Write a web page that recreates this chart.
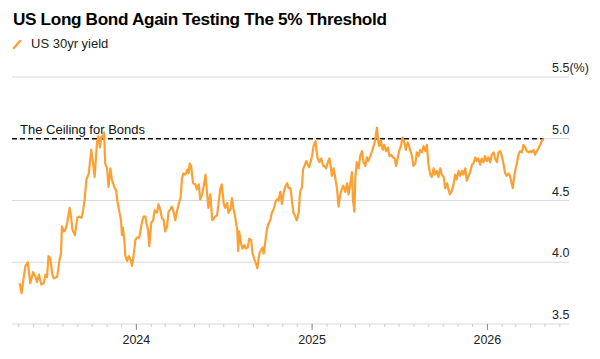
<!DOCTYPE html>
<html>
<head>
<meta charset="utf-8" />
<script src="https://cdn.jsdelivr.net/npm/d3@7"></script>
<style>
  body { margin: 0; background: #fff; }
  svg { display: block; font-family: "Liberation Sans", Arial, Helvetica, sans-serif; }
</style>
</head>
<body>
<div id="chart"></div>
<script>
/** Chart data */
const title = "US Long Bond Again Testing The 5% Threshold";
const seriesName = "US 30yr yield";
const ceilingLabel = "The Ceiling for Bonds";
const ceilingValue = 5.0;
const yTicks = [3.5, 4.0, 4.5, 5.0, 5.5];
const yearTicks = ["2024-01-01", "2025-01-01", "2026-01-01"];
const xDomain = ["2023-04-17", "2026-06-20"];

const dates = [
  "2023-05-03", "2023-05-07", "2023-05-10", "2023-05-15", "2023-05-20", "2023-05-25", "2023-05-31",
  "2023-06-05", "2023-06-08", "2023-06-12", "2023-06-17", "2023-06-22", "2023-06-26", "2023-06-29",
  "2023-07-02", "2023-07-06", "2023-07-10", "2023-07-13", "2023-07-20", "2023-07-25", "2023-07-28",
  "2023-07-30", "2023-08-03", "2023-08-06", "2023-08-10", "2023-08-15", "2023-08-18", "2023-08-21",
  "2023-08-26", "2023-08-31", "2023-09-04", "2023-09-09", "2023-09-12", "2023-09-15", "2023-09-19",
  "2023-09-24", "2023-09-29", "2023-10-03", "2023-10-06", "2023-10-11", "2023-10-14", "2023-10-17",
  "2023-10-20", "2023-10-24", "2023-10-26", "2023-10-28", "2023-11-01", "2023-11-04", "2023-11-08",
  "2023-11-11", "2023-11-16", "2023-11-20", "2023-11-23", "2023-11-27", "2023-11-30", "2023-12-02",
  "2023-12-04", "2023-12-07", "2023-12-09", "2023-12-13", "2023-12-16", "2023-12-20", "2023-12-23",
  "2023-12-26", "2023-12-30", "2024-01-02", "2024-01-07", "2024-01-13", "2024-01-16", "2024-01-20",
  "2024-01-22", "2024-01-25", "2024-01-28", "2024-02-01", "2024-02-05", "2024-02-08", "2024-02-13",
  "2024-02-16", "2024-02-20", "2024-02-23", "2024-02-27", "2024-03-01", "2024-03-05", "2024-03-08",
  "2024-03-12", "2024-03-15", "2024-03-19", "2024-03-22", "2024-03-26", "2024-03-29", "2024-04-02",
  "2024-04-05", "2024-04-08", "2024-04-12", "2024-04-16", "2024-04-19", "2024-04-21", "2024-04-24",
  "2024-04-28", "2024-05-03", "2024-05-06", "2024-05-10", "2024-05-13", "2024-05-17", "2024-05-20",
  "2024-05-24", "2024-05-27", "2024-05-30", "2024-06-03", "2024-06-07", "2024-06-10", "2024-06-13",
  "2024-06-17", "2024-06-20", "2024-06-24", "2024-06-27", "2024-07-01", "2024-07-04", "2024-07-08",
  "2024-07-11", "2024-07-15", "2024-07-18", "2024-07-21", "2024-07-25", "2024-07-29", "2024-07-31",
  "2024-08-02", "2024-08-06", "2024-08-09", "2024-08-13", "2024-08-16", "2024-08-20", "2024-08-23",
  "2024-08-27", "2024-08-30", "2024-09-03", "2024-09-06", "2024-09-09", "2024-09-13", "2024-09-17",
  "2024-09-20", "2024-09-22", "2024-09-25", "2024-09-29", "2024-10-02", "2024-10-06", "2024-10-09",
  "2024-10-13", "2024-10-16", "2024-10-20", "2024-10-23", "2024-10-27", "2024-10-30", "2024-11-03",
  "2024-11-06", "2024-11-10", "2024-11-13", "2024-11-17", "2024-11-20", "2024-11-23", "2024-11-27",
  "2024-11-30", "2024-12-04", "2024-12-07", "2024-12-11", "2024-12-13", "2024-12-16", "2024-12-20",
  "2024-12-23", "2024-12-26", "2024-12-28", "2025-01-01", "2025-01-04", "2025-01-08", "2025-01-10",
  "2025-01-12", "2025-01-16", "2025-01-20", "2025-01-24", "2025-01-27", "2025-01-30", "2025-02-02",
  "2025-02-06", "2025-02-09", "2025-02-11", "2025-02-15", "2025-02-18", "2025-02-22", "2025-02-25",
  "2025-03-01", "2025-03-04", "2025-03-07", "2025-03-11", "2025-03-15", "2025-03-18", "2025-03-21",
  "2025-03-25", "2025-03-27", "2025-03-30", "2025-04-01", "2025-04-04", "2025-04-08", "2025-04-11",
  "2025-04-15", "2025-04-18", "2025-04-22", "2025-04-25", "2025-04-28", "2025-05-02", "2025-05-06",
  "2025-05-09", "2025-05-12", "2025-05-16", "2025-05-19", "2025-05-21", "2025-05-24", "2025-05-28",
  "2025-05-31", "2025-06-04", "2025-06-08", "2025-06-11", "2025-06-15", "2025-06-18", "2025-06-22",
  "2025-06-25", "2025-06-29", "2025-07-02", "2025-07-05", "2025-07-08", "2025-07-12", "2025-07-15",
  "2025-07-19", "2025-07-22", "2025-07-24", "2025-07-28", "2025-07-31", "2025-08-04", "2025-08-07",
  "2025-08-11", "2025-08-14", "2025-08-18", "2025-08-21", "2025-08-25", "2025-08-28", "2025-08-31",
  "2025-09-04", "2025-09-07", "2025-09-11", "2025-09-14", "2025-09-18", "2025-09-21", "2025-09-25",
  "2025-09-28", "2025-10-02", "2025-10-05", "2025-10-09", "2025-10-12", "2025-10-15", "2025-10-19",
  "2025-10-22", "2025-10-26", "2025-10-29", "2025-11-02", "2025-11-05", "2025-11-09", "2025-11-12",
  "2025-11-16", "2025-11-19", "2025-11-23", "2025-11-26", "2025-11-30", "2025-12-03", "2025-12-07",
  "2025-12-10", "2025-12-13", "2025-12-17", "2025-12-20", "2025-12-24", "2025-12-27", "2025-12-31",
  "2026-01-03", "2026-01-07", "2026-01-10", "2026-01-14", "2026-01-17", "2026-01-21", "2026-01-24",
  "2026-01-28", "2026-01-31", "2026-02-03", "2026-02-07", "2026-02-10", "2026-02-14", "2026-02-17",
  "2026-02-21", "2026-02-23", "2026-02-26", "2026-03-01", "2026-03-04", "2026-03-06", "2026-03-10",
  "2026-03-14", "2026-03-17", "2026-03-21", "2026-03-24", "2026-03-28", "2026-03-31", "2026-04-03",
  "2026-04-07", "2026-04-10", "2026-04-14", "2026-04-17", "2026-04-21", "2026-04-24", "2026-04-28",
];

const yields = [
  3.83, 3.75, 3.84, 3.97, 4.00, 3.83, 3.92,
  3.88, 3.84, 3.90, 3.82, 3.83, 3.90, 3.88,
  4.05, 4.03, 3.90, 3.87, 3.88, 4.02, 4.07,
  4.29, 4.25, 4.26, 4.32, 4.44, 4.37, 4.26,
  4.22, 4.36, 4.37, 4.36, 4.42, 4.50, 4.67,
  4.72, 4.91, 4.80, 4.69, 4.97, 5.02, 4.93,
  5.02, 5.01, 5.05, 4.80, 4.76, 4.61, 4.76,
  4.67, 4.61, 4.58, 4.48, 4.40, 4.34, 4.22,
  4.28, 4.18, 4.05, 4.01, 4.05, 4.02, 3.97,
  4.05, 4.18, 4.20, 4.20, 4.33, 4.37, 4.37,
  4.31, 4.27, 4.13, 4.32, 4.34, 4.42, 4.40,
  4.47, 4.42, 4.36, 4.34, 4.25, 4.29, 4.41,
  4.43, 4.45, 4.40, 4.34, 4.42, 4.47, 4.52,
  4.68, 4.72, 4.71, 4.75, 4.72, 4.80, 4.78,
  4.64, 4.63, 4.59, 4.63, 4.51, 4.55, 4.61,
  4.71, 4.57, 4.44, 4.55, 4.34, 4.35, 4.37,
  4.38, 4.47, 4.60, 4.63, 4.47, 4.44, 4.48,
  4.40, 4.43, 4.52, 4.44, 4.36, 4.26, 4.09,
  4.25, 4.15, 4.11, 4.14, 4.11, 4.12, 4.19,
  4.18, 4.07, 4.02, 3.99, 3.95, 4.07, 4.10,
  4.12, 4.07, 4.15, 4.27, 4.31, 4.34, 4.40,
  4.43, 4.48, 4.51, 4.50, 4.57, 4.47, 4.57,
  4.61, 4.64, 4.60, 4.60, 4.50, 4.40, 4.37,
  4.34, 4.40, 4.57, 4.61, 4.75, 4.78, 4.82,
  4.79, 4.77, 4.80, 4.86, 4.94, 4.98, 4.91,
  4.85, 4.81, 4.84, 4.78, 4.78, 4.76, 4.80,
  4.84, 4.77, 4.70, 4.76, 4.69, 4.59, 4.45,
  4.56, 4.59, 4.62, 4.57, 4.64, 4.55, 4.62,
  4.73, 4.51, 4.41, 4.68, 4.81, 4.76, 4.86,
  4.90, 4.81, 4.78, 4.85, 4.82, 4.86, 4.90,
  4.94, 4.98, 5.09, 4.97, 4.94, 4.99, 4.91,
  4.95, 4.90, 4.93, 4.86, 4.87, 4.85, 4.84,
  4.78, 4.86, 4.91, 4.94, 5.01, 4.97, 4.91,
  4.97, 4.94, 4.91, 4.86, 4.78, 4.80, 4.89,
  4.86, 4.91, 4.89, 4.94, 4.90, 4.95, 4.80,
  4.71, 4.69, 4.76, 4.71, 4.74, 4.69, 4.76,
  4.71, 4.69, 4.60, 4.64, 4.59, 4.55, 4.58,
  4.62, 4.71, 4.67, 4.74, 4.70, 4.74, 4.71,
  4.76, 4.66, 4.70, 4.73, 4.79, 4.80, 4.85,
  4.82, 4.84, 4.79, 4.84, 4.81, 4.86, 4.82,
  4.85, 4.81, 4.87, 4.89, 4.84, 4.81, 4.89,
  4.90, 4.86, 4.81, 4.72, 4.70, 4.72, 4.70,
  4.63, 4.60, 4.70, 4.76, 4.81, 4.86, 4.90,
  4.89, 4.95, 4.93, 4.90, 4.89, 4.90, 4.89,
  4.91, 4.87, 4.90, 4.92, 4.95, 4.98, 5.00,
];

/** Graph configs */
const width = 600;
const height = 359;
const plot = { left: 12, right: 569, top: 77, bottom: 324 };
const lineColor = "#fca033";
const parseDate = d3.utcParse("%Y-%m-%d");

const data = dates.map((d, i) => ({ date: parseDate(d), value: yields[i] }));

const svg = d3
  .select("#chart")
  .append("svg")
  .attr("width", width)
  .attr("height", height);

const x = d3
  .scaleUtc()
  .domain(xDomain.map(parseDate))
  .range([plot.left, plot.right]);

const y = d3
  .scaleLinear()
  .domain([3.5, 5.5])
  .range([plot.bottom, plot.top]);

// title + legend
svg
  .append("text")
  .attr("x", 13)
  .attr("y", 25)
  .attr("font-size", 17.2)
  .attr("font-weight", "bold")
  .attr("letter-spacing", -0.35)
  .attr("fill", "#000")
  .text(title);

svg
  .append("line")
  .attr("x1", 14)
  .attr("y1", 48)
  .attr("x2", 20)
  .attr("y2", 41)
  .attr("stroke", lineColor)
  .attr("stroke-width", 2.5)
  .attr("stroke-linecap", "round");

svg
  .append("text")
  .attr("x", 31)
  .attr("y", 48)
  .attr("font-size", 13)
  .attr("fill", "#222")
  .text(seriesName);

// horizontal gridlines + right labels
const grid = svg.append("g");
grid
  .selectAll("line")
  .data(yTicks)
  .join("line")
  .attr("x1", plot.left)
  .attr("x2", plot.right)
  .attr("y1", (d) => y(d))
  .attr("y2", (d) => y(d))
  .attr("stroke", "#d9d9d9")
  .attr("stroke-width", 1);

grid
  .selectAll("text")
  .data(yTicks)
  .join("text")
  .attr("x", 552)
  .attr("y", (d) => y(d) - 5)
  .attr("font-size", 12.5)
  .attr("fill", "#222")
  .text((d, i) => d3.format(".1f")(d) + (i === yTicks.length - 1 ? "(%)" : ""));

// x axis: monthly minor ticks, yearly major ticks
const axis = svg.append("g").attr("transform", `translate(0,${plot.bottom})`);
const months = x.ticks(d3.utcMonth.every(1));
const years = yearTicks.map(parseDate);

axis
  .selectAll(".minor")
  .data(months)
  .join("line")
  .attr("class", "minor")
  .attr("x1", (d) => x(d))
  .attr("x2", (d) => x(d))
  .attr("y1", 0)
  .attr("y2", 3)
  .attr("stroke", "#cfcfcf");

axis
  .selectAll(".major")
  .data(years)
  .join("line")
  .attr("class", "major")
  .attr("x1", (d) => x(d))
  .attr("x2", (d) => x(d))
  .attr("y1", 0)
  .attr("y2", 6)
  .attr("stroke", "#888");

axis
  .selectAll("text")
  .data(years)
  .join("text")
  .attr("x", (d) => x(d))
  .attr("y", 20)
  .attr("text-anchor", "middle")
  .attr("font-size", 12.5)
  .attr("fill", "#222")
  .text((d) => d3.utcFormat("%Y")(d));

// the ceiling
const lastDate = data[data.length - 1].date;
svg
  .append("line")
  .attr("x1", plot.left)
  .attr("x2", x(lastDate))
  .attr("y1", y(ceilingValue))
  .attr("y2", y(ceilingValue))
  .attr("stroke", "#111")
  .attr("stroke-width", 1.5)
  .attr("stroke-dasharray", "5,3");

svg
  .append("text")
  .attr("x", 20)
  .attr("y", y(ceilingValue) - 5)
  .attr("font-size", 13)
  .attr("fill", "#111")
  .text(ceilingLabel);

// yield line
const line = d3
  .line()
  .x((d) => x(d.date))
  .y((d) => y(d.value));

svg
  .append("path")
  .datum(data)
  .attr("d", line)
  .attr("fill", "none")
  .attr("stroke", lineColor)
  .attr("stroke-width", 2.2)
  .attr("stroke-linejoin", "round");
</script>
</body>
</html>
